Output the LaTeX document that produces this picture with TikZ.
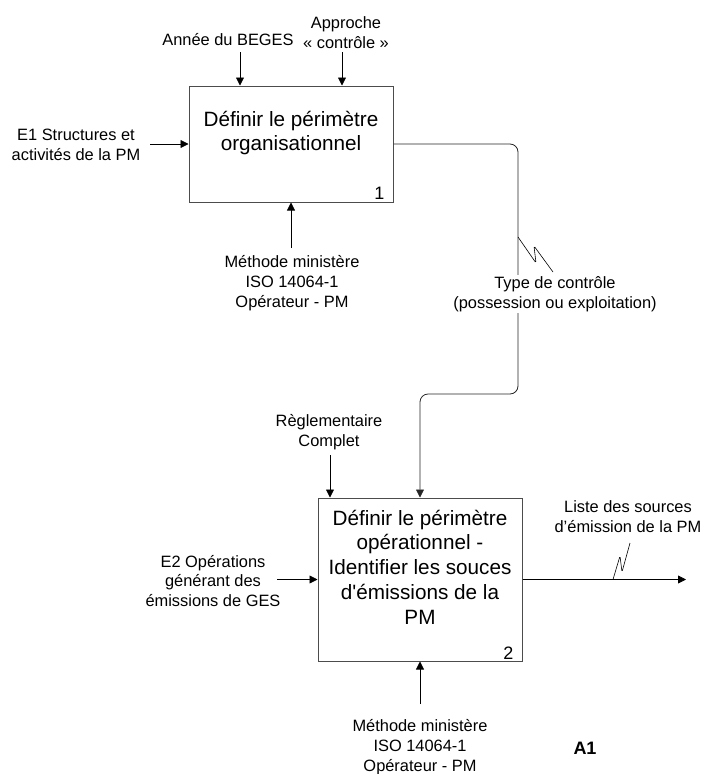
\documentclass[tikz,border=0pt]{standalone}
\usepackage{fontspec}
\newfontfamily\arial{Liberation Sans}
\usetikzlibrary{arrows.meta}

\begin{document}
\begin{tikzpicture}[x=1pt,y=-1pt,
  procbox/.style={draw=black!70, line width=1pt, minimum width=204pt, inner sep=0pt},
  bigtxt/.style={font=\arial\fontsize{20.7}{24.8}\selectfont, align=center, inner sep=1pt},
  numtxt/.style={font=\arial\fontsize{18}{20}\selectfont, inner sep=0pt, anchor=base east},
  lbl/.style={font=\arial\fontsize{16.4}{19.8}\selectfont, align=center, inner sep=1pt},
  arr/.style={black, line width=0.8pt, -{Triangle[length=8pt,width=8pt]}},
  link/.style={black!85, line width=0.8pt, rounded corners=8pt, -{Triangle[length=8pt,width=8pt]}},
  squig/.style={black, line width=0.6pt, rounded corners=1.5pt}]
\useasboundingbox (0,0) rectangle (704,774);

\node[procbox, minimum height=116pt] (box1) at (291,144) {};
\node[bigtxt] (t1) at (291,133) {Définir le périmètre\\organisationnel};
\node[numtxt] (n1) at ([xshift=-9pt,yshift=3.5pt]box1.south east) {1};

\node[procbox, minimum height=163pt] (box2) at (420,579.5) {};
\node[bigtxt] (t2) at (420,567) {Définir le périmètre\\opérationnel -\\Identifier les souces\\d'émissions de la\\PM};
\node[numtxt] (n2) at ([xshift=-9pt,yshift=2.5pt]box2.south east) {2};

\node[lbl] (annee) at (228,40) {Année du BEGES};
\node[lbl] (appr) at (346,33) {Approche\\« contrôle »};
\node[lbl] (e1) at (76,145) {E1 Structures et\\activités de la PM};
\node[lbl] (meth1) at (292,283) {Méthode ministère\\ISO 14064-1\\Opérateur - PM};
\node[lbl] (regl) at (329,432) {Règlementaire\\Complet};
\node[lbl] (e2) at (213,581) {E2 Opérations\\générant des\\émissions de GES};
\node[lbl] (meth2) at (420,747) {Méthode ministère\\ISO 14064-1\\Opérateur - PM};
\node[lbl] (liste) at (628,517) {Liste des sources\\d’émission de la PM};
\node[font=\arial\bfseries\fontsize{18}{20}\selectfont] (a1) at (585,748) {A1};

\coordinate (c-annee) at (240,52);
\coordinate (c-appr) at (342,52);
\coordinate (c-e1) at (150,144);
\coordinate (c-meth1) at (291,248);
\coordinate (c-regl) at (330,455);
\coordinate (c-e2) at (277,579.5);
\coordinate (c-meth2) at (420,704);
\coordinate (c-out) at (686,579.5);
\coordinate (bend1) at (518,394);

\draw[arr] (c-annee) -- (c-annee |- box1.north);
\draw[arr] (c-appr) -- (c-appr |- box1.north);
\draw[arr] (c-e1) -- (box1.west);
\draw[arr] (c-meth1) -- (box1.south);
\draw[link] (box1.east) -| (bend1) -| (box2.north);
\node[lbl, fill=white] (typectl) at (555,294) {Type de contrôle\\(possession ou exploitation)};
\draw[squig] (518,237) -- (536,263) -- (534,246) -- (553,272);

\draw[arr] (c-regl) -- (c-regl |- box2.north);
\draw[arr] (c-e2) -- (box2.west);
\draw[arr] (c-meth2) -- (box2.south);
\draw[arr] (box2.east) -- (c-out);
\draw[squig] (613,579.5) -- (620,556) -- (622,572) -- (630,543);
\end{tikzpicture}
\end{document}
